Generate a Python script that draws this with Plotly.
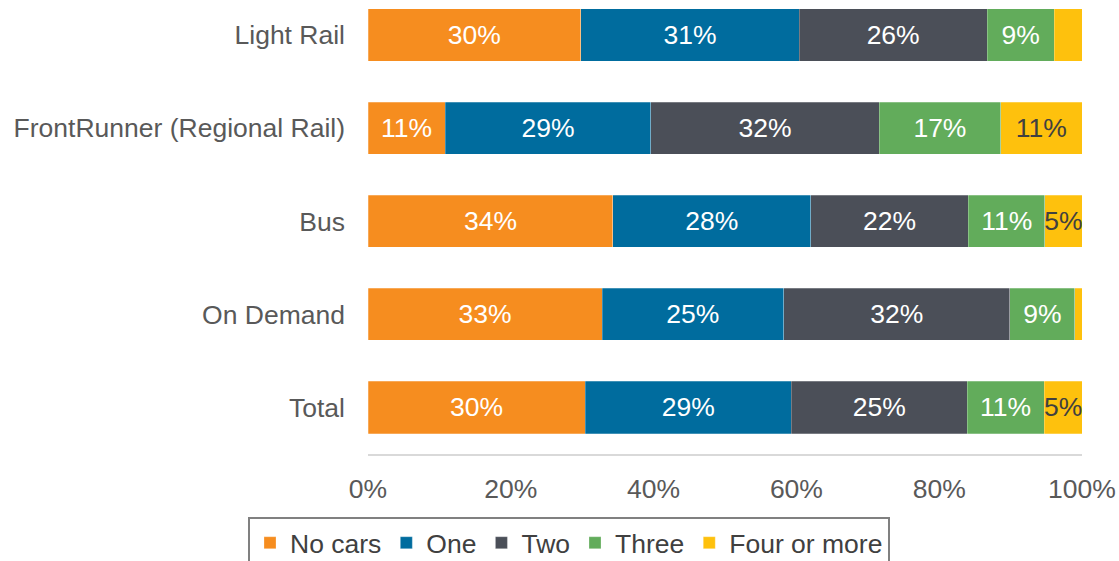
import plotly.graph_objects as go

categories = ["Light Rail", "FrontRunner (Regional Rail)", "Bus", "On Demand", "Total"]
series_names = ["No cars", "One", "Two", "Three", "Four or more"]
no_cars = [29.8, 10.8, 34.3, 32.8, 30.4]
one = [30.6, 28.8, 27.7, 25.4, 28.9]
two = [26.3, 32.0, 22.1, 31.7, 24.6]
three = [9.4, 17.0, 10.7, 9.1, 10.8]
four_plus = [3.9, 11.4, 5.2, 1.0, 5.3]
colors = ["#F68D1F", "#006C9E", "#4B4F58", "#62AC5B", "#FEC10D"]
text_colors = ["white", "white", "white", "white", "#404040"]
x_ticks = [0, 20, 40, 60, 80, 100]

FONT = "Liberation Sans, Arial, sans-serif"
FS = 26.5

fig = go.Figure()
for name, vals, col, tcol in zip(series_names, [no_cars, one, two, three, four_plus], colors, text_colors):
    labels = [f"{round(v)}%" if v >= 5 else "" for v in vals]
    fig.add_trace(go.Bar(
        y=categories, x=vals, name=name, orientation="h",
        marker=dict(color=col, line=dict(color="rgba(255,255,255,0.5)", width=0.5)),
        text=labels, texttemplate="%{text}", textposition="inside",
        insidetextanchor="middle", textangle=0,
        insidetextfont=dict(color=tcol, size=FS, family=FONT),
        hoverinfo="skip",
    ))

fig.update_layout(
    barmode="stack",
    bargap=0.44,
    width=1119, height=561,
    margin=dict(l=368, r=37, t=0, b=107, autoexpand=False),
    paper_bgcolor="white", plot_bgcolor="white",
    font=dict(family=FONT, size=FS, color="#595959"),
    uniformtext=dict(minsize=FS, mode="show"),
    showlegend=True,
    legend=dict(
        orientation="h", xref="container", x=0.5085, xanchor="center",
        yref="container", y=(561 - 517) / 561, yanchor="top",
        bordercolor="#808080", borderwidth=2,
        font=dict(size=FS, color="#404040", family=FONT),
        traceorder="normal", itemwidth=30,
    ),
)
fig.update_xaxes(
    range=[0, 100], tickvals=x_ticks, ticktext=[f"{t}%" for t in x_ticks],
    showgrid=False, zeroline=False, showline=True, linecolor="#D9D9D9", linewidth=2,
    ticks="", ticklabelstandoff=10, tickfont=dict(size=FS, color="#595959"),
    fixedrange=True, automargin=False,
)
fig.update_yaxes(
    categoryorder="array", categoryarray=categories,
    range=[4.5, -0.376], showgrid=False, zeroline=False, showline=False,
    ticks="", ticklabelstandoff=22, tickfont=dict(size=FS, color="#595959"),
    fixedrange=True, automargin=False,
)

fig.write_html(
    "out.html",
    config={"displayModeBar": False},
    post_script="document.body.style.margin='0';document.body.style.overflow='hidden';",
)
